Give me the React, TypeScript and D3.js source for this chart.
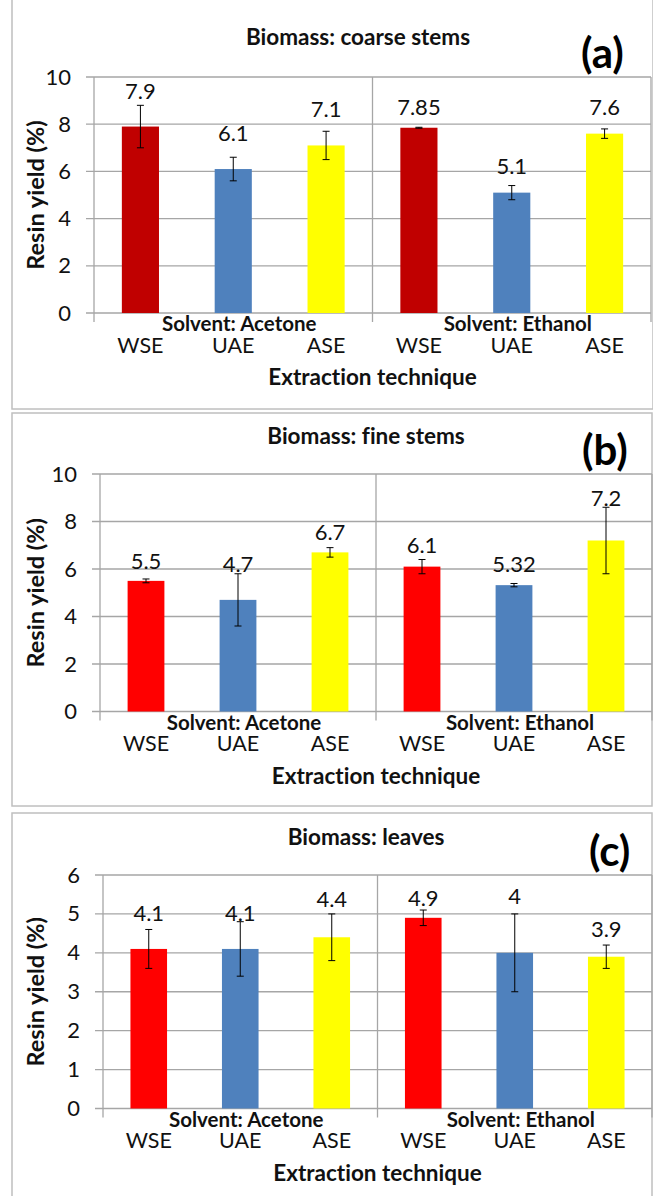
import React from "react";
import * as d3 from "d3";

// ---------- data ----------
const techniques = ["WSE", "UAE", "ASE"];
const solvents = ["Acetone", "Ethanol"];
const solventLabels = ["Solvent: Acetone", "Solvent: Ethanol"];

const panelTitles = ["Biomass: coarse stems", "Biomass: fine stems", "Biomass: leaves"];
const panelLetters = ["(a)", "(b)", "(c)"];

// order: Acetone WSE, UAE, ASE, Ethanol WSE, UAE, ASE
const coarseValues = [7.9, 6.1, 7.1, 7.85, 5.1, 7.6];
const coarseErrors = [0.9, 0.5, 0.6, 0.02, 0.3, 0.2];
const coarseLabels = ["7.9", "6.1", "7.1", "7.85", "5.1", "7.6"];

const fineValues = [5.5, 4.7, 6.7, 6.1, 5.32, 7.2];
const fineErrors = [0.08, 1.1, 0.2, 0.3, 0.07, 1.4];
const fineLabels = ["5.5", "4.7", "6.7", "6.1", "5.32", "7.2"];

const leavesValues = [4.1, 4.1, 4.4, 4.9, 4.0, 3.9];
const leavesErrors = [0.5, 0.7, 0.6, 0.2, 1.0, 0.3];
const leavesLabels = ["4.1", "4.1", "4.4", "4.9", "4", "3.9"];

const coarseTicks = [0, 2, 4, 6, 8, 10];
const fineTicks = [0, 2, 4, 6, 8, 10];
const leavesTicks = [0, 1, 2, 3, 4, 5, 6];

const coarseColors = ["#C00000", "#4F81BD", "#FFFF00"];
const fineColors = ["#FF0000", "#4F81BD", "#FFFF00"];
const leavesColors = ["#FF0000", "#4F81BD", "#FFFF00"];

const xTitle = "Extraction technique";
const yTitle = "Resin yield (%)";

// ---------- layout (positions / styles) ----------
const FONT = "Lato, 'Open Sans', 'DejaVu Sans', sans-serif";
const GRID = "#A6A6A6";
const FRAME = "#BFBFBF";

const layouts = [
  {
    frame: [12, -2, 653, 409],
    x0: 94, x1: 651, yTop: 77, yBottom: 313,
    titleX: 358, titleY: 45, letterX: 581, letterY: 68,
    labelOffsets: [28, 28, 28, 13, 19, 19],
  },
  {
    frame: [12, 413, 652, 806],
    x0: 100, x1: 652, yTop: 474, yBottom: 711.5,
    titleX: 366, titleY: 444, letterX: 582, letterY: 465,
    labelOffsets: [12, 28, 12, 13.5, 13, 35],
  },
  {
    frame: [12, 813, 652, 1200],
    x0: 103, x1: 652, yTop: 875, yBottom: 1108.5,
    titleX: 366, titleY: 845, letterX: 589, letterY: 866,
    labelOffsets: [28, 28, 30, 12, 48.5, 20],
  },
];

const panelData = [
  { values: coarseValues, errors: coarseErrors, labels: coarseLabels, ticks: coarseTicks, colors: coarseColors },
  { values: fineValues, errors: fineErrors, labels: fineLabels, ticks: fineTicks, colors: fineColors },
  { values: leavesValues, errors: leavesErrors, labels: leavesLabels, ticks: leavesTicks, colors: leavesColors },
];

function Panel({ idx }: { idx: number }) {
  const L = layouts[idx];
  const D = panelData[idx];
  const categories = solvents.flatMap((s) => techniques.map((t) => `${s}|${t}`));

  const x = d3
    .scaleBand<string>()
    .domain(categories)
    .range([L.x0, L.x1])
    .paddingInner(0.6)
    .paddingOuter(0.3);
  const xg = d3.scaleBand<string>().domain(solvents).range([L.x0, L.x1]);
  const yMax = d3.max(D.ticks) as number;
  const y = d3.scaleLinear().domain([0, yMax]).range([L.yBottom, L.yTop]);

  const [fx0, fy0, fx1, fy1] = L.frame;
  const midY = (L.yTop + L.yBottom) / 2;
  const midX = (L.x0 + L.x1) / 2;

  const boundaries = [L.x0, ...solvents.map((s) => (xg(s) as number) + xg.bandwidth())];

  return (
    <g>
      <rect x={fx0} y={fy0} width={fx1 - fx0} height={fy1 - fy0} fill="#fff" stroke={FRAME} strokeWidth={1.5} />
      {/* gridlines + ticks */}
      {D.ticks.map((t) => (
        <g key={t}>
          <line x1={L.x0 - 8} x2={L.x1} y1={y(t)} y2={y(t)} stroke={GRID} strokeWidth={1.3} />
          <text x={L.x0 - 23} y={y(t) + 7.5} textAnchor="end" fontSize={22} fontFamily={FONT} fill="#111">
            {t}
          </text>
        </g>
      ))}
      {/* vertical axis and group dividers */}
      {boundaries.map((bx, i) => (
        <line key={i} x1={bx} x2={bx} y1={L.yTop} y2={L.yBottom + 9} stroke={GRID} strokeWidth={1.3} />
      ))}
      {/* bars */}
      {categories.map((c, i) => {
        const bx = x(c) as number;
        const v = D.values[i];
        return (
          <rect
            key={c}
            x={bx}
            y={y(v)}
            width={x.bandwidth()}
            height={y(0) - y(v)}
            fill={D.colors[i % 3]}
          />
        );
      })}
      {/* error bars */}
      {categories.map((c, i) => {
        const cx = (x(c) as number) + x.bandwidth() / 2;
        const v = D.values[i];
        const e = D.errors[i];
        const yt = y(v + e);
        const yb = y(v - e);
        return (
          <g key={"e" + c} stroke="#000" strokeWidth={1}>
            <line x1={cx} x2={cx} y1={yt} y2={yb} />
            <line x1={cx - 3.5} x2={cx + 3.5} y1={yt} y2={yt} />
            <line x1={cx - 3.5} x2={cx + 3.5} y1={yb} y2={yb} />
          </g>
        );
      })}
      {/* value labels */}
      {categories.map((c, i) => {
        const cx = (x(c) as number) + x.bandwidth() / 2;
        return (
          <text
            key={"l" + c}
            x={cx}
            y={y(D.values[i]) - L.labelOffsets[i]}
            textAnchor="middle"
            fontSize={22}
            fontFamily={FONT}
            fill="#111"
          >
            {D.labels[i]}
          </text>
        );
      })}
      {/* category labels */}
      {categories.map((c, i) => (
        <text
          key={"t" + c}
          x={(x(c) as number) + x.bandwidth() / 2}
          y={L.yBottom + 39.5}
          textAnchor="middle"
          fontSize={21.5}
          fontFamily={FONT}
          fill="#111"
        >
          {techniques[i % 3]}
        </text>
      ))}
      {solvents.map((s, i) => (
        <text
          key={"s" + s}
          x={(xg(s) as number) + xg.bandwidth() / 2 + 6}
          y={L.yBottom + 18}
          textAnchor="middle"
          fontSize={20.5}
          fontWeight="bold"
          fontFamily={FONT}
          fill="#111"
        >
          {solventLabels[i]}
        </text>
      ))}
      {/* axis titles */}
      <text x={midX} y={L.yBottom + 72} textAnchor="middle" fontSize={22.5} fontWeight="bold" fontFamily={FONT} fill="#111">
        {xTitle}
      </text>
      <text
        transform={`translate(44,${midY}) rotate(-90)`}
        textAnchor="middle"
        fontSize={23.5}
        fontWeight="bold"
        fontFamily={FONT}
        fill="#111"
      >
        {yTitle}
      </text>
      {/* title & letter */}
      <text x={L.titleX} y={L.titleY} textAnchor="middle" fontSize={22.5} fontWeight="bold" fontFamily={FONT} fill="#111">
        {panelTitles[idx]}
      </text>
      <text x={L.letterX} y={L.letterY} fontSize={42} fontWeight="bold" fontFamily={FONT} fill="#000">
        {panelLetters[idx]}
      </text>
    </g>
  );
}

export default function App() {
  return (
    <svg
      width={653}
      height={1196}
      style={{
        position: "absolute",
        left: 0,
        top: 0,
        background: "#fff",
        fontVariantLigatures: "none",
        fontFeatureSettings: '"liga" 0, "clig" 0',
      }}
    >
      <rect x={0} y={0} width={653} height={1196} fill="#fff" />
      {layouts.map((_, i) => (
        <Panel key={i} idx={i} />
      ))}
    </svg>
  );
}
